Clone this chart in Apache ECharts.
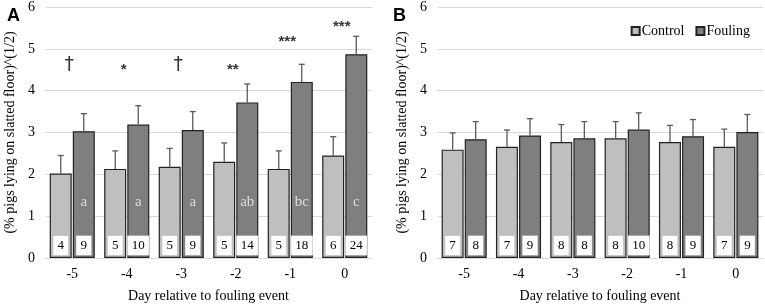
<!doctype html>
<html lang="en">
<head>
<meta charset="UTF-8">
<title>Pigs lying on slatted floor</title>
<style>
  html, body { margin: 0; padding: 0; background: #fff; }
  #chart { width: 765px; height: 308px; }
</style>
<script src="https://cdn.jsdelivr.net/npm/echarts@6/dist/echarts.min.js"></script>
</head>
<body>
<div id="chart"></div>
<script>
var days = ['-5', '-4', '-3', '-2', '-1', '0'];

// panel A
var ctrlA = [2.02, 2.13, 2.18, 2.30, 2.13, 2.45];
var ctrlTopA = [2.45, 2.56, 2.62, 2.75, 2.56, 2.90];
var foulA = [3.03, 3.19, 3.06, 3.72, 4.21, 4.87];
var foulTopA = [3.45, 3.64, 3.50, 4.16, 4.63, 5.30];
var nCtrlA = [4, 5, 5, 5, 5, 6];
var nFoulA = [9, 10, 9, 14, 18, 24];
var lettersA = ['a', 'a', 'a', 'ab', 'bc', 'c'];
var sigA = ['†', '*', '†', '**', '***', '***'];
var sigYA = [4.62, 4.5, 4.62, 4.5, 5.17, 5.52];

// panel B
var ctrlB = [2.59, 2.66, 2.77, 2.86, 2.77, 2.66];
var ctrlTopB = [2.99, 3.06, 3.19, 3.26, 3.17, 3.08];
var foulB = [2.84, 2.93, 2.86, 3.07, 2.91, 3.01];
var foulTopB = [3.26, 3.33, 3.26, 3.47, 3.31, 3.43];
var nCtrlB = [7, 7, 8, 8, 8, 7];
var nFoulB = [8, 9, 8, 10, 9, 9];

var serif = 'Liberation Serif';
var yName = '(% pigs lying on slatted floor)^(1/2)';
var shift = 11.5; // half of bar + gap

function barSeries(name, axis, vals, counts, color) {
  return {
    name: name, type: 'bar', xAxisIndex: axis, yAxisIndex: axis,
    data: vals, barWidth: 22, barGap: '5%',
    itemStyle: { color: color, borderColor: '#222', borderWidth: 1.2 },
    label: {
      show: true, position: 'insideBottom', distance: 3,
      formatter: function (p) { return counts[p.dataIndex]; },
      color: '#000', fontFamily: serif, fontSize: 13, lineHeight: 14,
      backgroundColor: '#fff', padding: [3, 4, 2, 4],
      borderColor: '#d4d4d4', borderWidth: 0.6
    },
    emphasis: { disabled: true }
  };
}

function errSeries(axis, vals, tops, dx) {
  return {
    type: 'custom', xAxisIndex: axis, yAxisIndex: axis, z: 3, silent: true,
    data: vals.map(function (v, i) { return [i, v, tops[i]]; }),
    renderItem: function (params, api) {
      var b = api.coord([api.value(0), api.value(1)]);
      var t = api.coord([api.value(0), api.value(2)]);
      var x = b[0] + dx;
      var st = { stroke: '#5a5a5a', lineWidth: 1.3 };
      return {
        type: 'group', children: [
          { type: 'line', shape: { x1: x, y1: b[1], x2: x, y2: t[1] }, style: st },
          { type: 'line', shape: { x1: x - 3, y1: t[1], x2: x + 3, y2: t[1] }, style: st }
        ]
      };
    }
  };
}

function textSeries(axis, ys, texts, dx, style) {
  return {
    type: 'scatter', xAxisIndex: axis, yAxisIndex: axis, symbolSize: 0, z: 4, silent: true,
    data: ys.map(function (y, i) { return [i, y]; }),
    label: Object.assign({
      show: true, position: 'inside', offset: [dx, 0],
      formatter: function (p) {
        var t = texts[p.dataIndex];
        return t === '†' ? '{d|' + t + '}' : t;
      }
    }, style)
  };
}

function xAx(idx) {
  return {
    type: 'category', gridIndex: idx, data: days,
    axisTick: { show: false },
    axisLine: { lineStyle: { color: '#d9d9d9', width: 1 } },
    axisLabel: { color: '#000', fontFamily: serif, fontSize: 14, margin: 9 },
    name: 'Day relative to fouling event', nameLocation: 'middle', nameGap: 31,
    nameTextStyle: { color: '#000', fontFamily: serif, fontSize: 14 }
  };
}

function yAx(idx) {
  return {
    type: 'value', gridIndex: idx, min: 0, max: 6, interval: 1,
    axisLine: { show: false }, axisTick: { show: false },
    splitLine: { lineStyle: { color: '#d9d9d9', width: 1.2 } },
    axisLabel: { color: '#000', fontFamily: serif, fontSize: 14, margin: 10 },
    name: yName, nameLocation: 'middle', nameGap: 28,
    nameTextStyle: { color: '#000', fontFamily: serif, fontSize: 14 }
  };
}

var chart = echarts.init(document.getElementById('chart'));
chart.setOption({
  animation: false,
  backgroundColor: '#fff',
  title: [
    { text: 'A', left: 2, top: 2, textStyle: { fontFamily: 'Liberation Sans', fontWeight: 'bold', fontSize: 18, color: '#000' } },
    { text: 'B', left: 388, top: 2, textStyle: { fontFamily: 'Liberation Sans', fontWeight: 'bold', fontSize: 18, color: '#000' } }
  ],
  legend: {
    data: ['Control', 'Fouling'], right: 10, top: 19, orient: 'horizontal', width: 140,
    itemWidth: 8, itemHeight: 8, itemGap: 11, icon: 'rect',
    textStyle: { color: '#000', fontFamily: serif, fontSize: 14, padding: [0, 0, 0, -3] }
  },
  grid: [
    { left: 45, width: 327, top: 5, bottom: 43 },
    { left: 437, width: 326, top: 5, bottom: 43 }
  ],
  xAxis: [xAx(0), xAx(1)],
  yAxis: [yAx(0), yAx(1)],
  series: [
    barSeries('Control', 0, ctrlA, nCtrlA, '#bfbfbf'),
    barSeries('Fouling', 0, foulA, nFoulA, '#7f7f7f'),
    barSeries('Control', 1, ctrlB, nCtrlB, '#bfbfbf'),
    barSeries('Fouling', 1, foulB, nFoulB, '#7f7f7f'),
    errSeries(0, ctrlA, ctrlTopA, -shift),
    errSeries(0, foulA, foulTopA, shift),
    errSeries(1, ctrlB, ctrlTopB, -shift),
    errSeries(1, foulB, foulTopB, shift),
    textSeries(0, lettersA.map(function () { return 1.34; }), lettersA, shift,
      { color: '#f0f0f0', fontFamily: serif, fontSize: 15 }),
    textSeries(0, sigYA, sigA, -3,
      { color: '#000', fontFamily: 'Liberation Sans', fontWeight: 'bold', fontSize: 15,
        rich: { d: { fontFamily: 'DejaVu Sans', fontWeight: 'normal', fontSize: 19, color: '#000' } } })
  ]
});
</script>
</body>
</html>
